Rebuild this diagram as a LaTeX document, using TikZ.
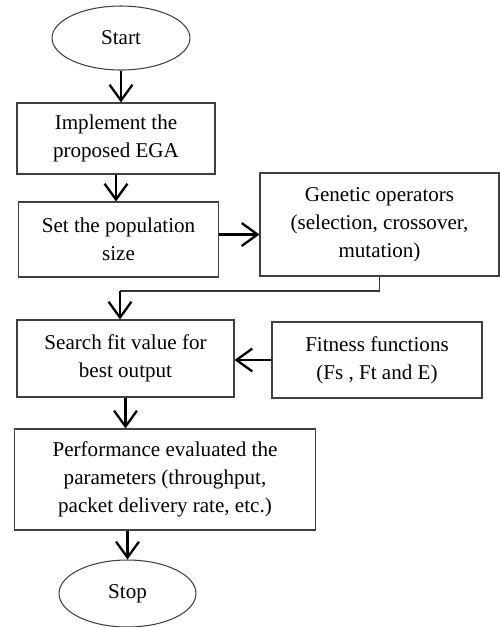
\documentclass[tikz,border=0pt]{standalone}
\usepackage{fontspec}
\setmainfont{Liberation Serif}
\usetikzlibrary{arrows.meta,shapes.geometric,calc}
\tikzset{every node/.append style={font=\fontsize{12}{16}\selectfont}}
\tikzset{
  procbox/.style={draw=black!75, line width=0.6pt, rectangle, align=center, inner sep=0pt},
  terminal/.style={draw=black!75, line width=0.6pt, ellipse, inner sep=0pt},
  flow/.style={line width=1.3pt, -{Straight Barb[length=9pt,width=13pt]}},
  link/.style={draw=black!80, line width=0.6pt}
}

\begin{document}
\begin{tikzpicture}[x=0.02cm, y=-0.02cm]
      \useasboundingbox (0,0) rectangle (500,627);

      % main column
      \node[terminal, minimum width=2.76cm, minimum height=1.28cm] (start) at (121,38) {Start};
      \node[procbox, minimum width=3.96cm, minimum height=1.42cm] (impl) at (116,138.5) {Implement the\\proposed EGA};
      \node[procbox, minimum width=4.0cm, minimum height=1.5cm] (popsize) at (118.5,239.5) {Set the population\\size};
      \node[procbox, minimum width=4.34cm, minimum height=1.54cm] (search) at (125.5,358.5) {Search fit value for\\best output};
      \node[procbox, minimum width=6.04cm, minimum height=2.02cm] (perf) at (165,479.5) {Performance evaluated the\\parameters (throughput,\\packet delivery rate, etc.)};
      \node[terminal, minimum width=2.74cm, minimum height=1.34cm] (stop) at (127.5,593.5) {Stop};

      % side boxes
      \node[procbox, minimum width=4.78cm, minimum height=2.06cm] (genop) at (379.5,224.5) {Genetic operators\\(selection, crossover,\\mutation)};
      \node[procbox, minimum width=4.2cm, minimum height=1.52cm] (fitness) at (377,360) {Fitness functions\\(Fs , Ft and E)};

      \coordinate (joint) at (120,291);

      \draw[flow] (start.south) -- (start.south |- impl.north);
      \draw[flow] (impl.south) -- (impl.south |- popsize.north);
      \draw[flow] ($(popsize.east)+(0,-5)$) -- ($(popsize.east -| genop.west)+(0,-5)$);
      \draw[link] (genop.south) |- (joint);
      \draw[flow] (joint) -- (joint |- search.north);
      \draw[flow] (fitness.west) -- (fitness.west -| search.east);
      \draw[flow] (search.south) -- (search.south |- perf.north);
      \draw[flow] (perf.south -| stop) -- (stop.north);
\end{tikzpicture}
\end{document}
